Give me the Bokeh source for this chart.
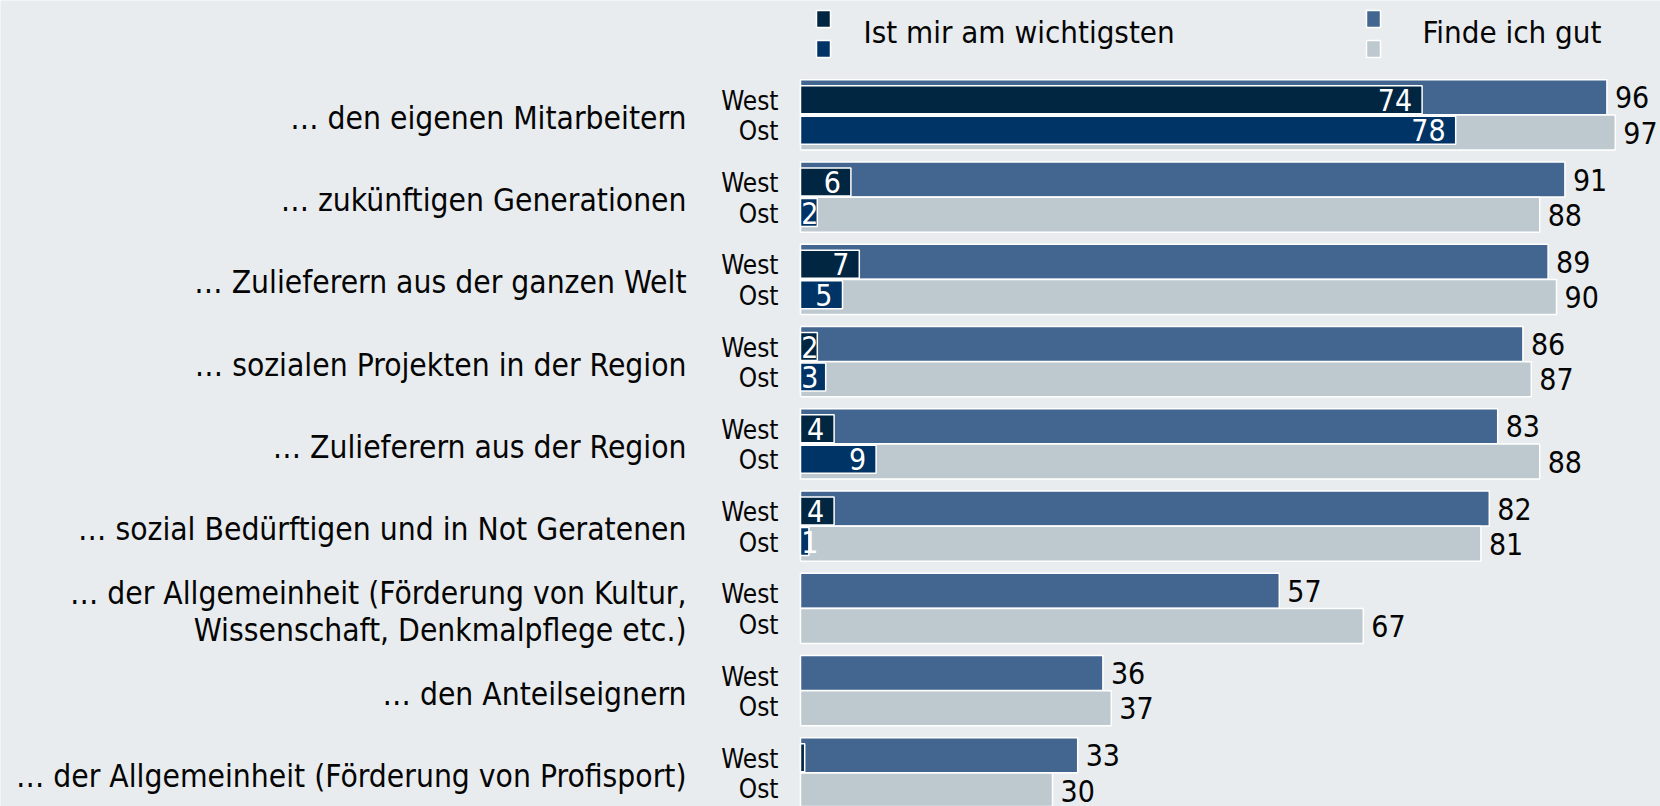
from bokeh.plotting import figure
from bokeh.models import Range1d, ColumnDataSource
from bokeh.core.properties import value
from bokeh.embed import file_html
from bokeh.resources import INLINE

# ---------------- data ----------------
categories = [
    "… den eigenen Mitarbeitern",
    "… zukünftigen Generationen",
    "… Zulieferern aus der ganzen Welt",
    "… sozialen Projekten in der Region",
    "… Zulieferern aus der Region",
    "… sozial Bedürftigen und in Not Geratenen",
    "… der Allgemeinheit (Förderung von Kultur,\nWissenschaft, Denkmalpflege etc.)",
    "… den Anteilseignern",
    "… der Allgemeinheit (Förderung von Profisport)",
]
finde_west = [96, 91, 89, 86, 83, 82, 57, 36, 33]
finde_ost = [97, 88, 90, 87, 88, 81, 67, 37, 30]
wichtig_west = [74, 6, 7, 2, 4, 4, 0, 0, 0.5]
wichtig_ost = [78, 2, 5, 3, 9, 1, 0, 0, 0]
region_labels = ["West", "Ost"]
legend_labels = ["Ist mir am wichtigsten", "Finde ich gut"]

# ---------------- style ----------------
W, H = 1660, 806
BG = "#E9ECEE"
C_WW = "#002642"   # wichtigsten West
C_WO = "#003366"   # wichtigsten Ost
C_FW = "#42668F"   # finde gut West
C_FO = "#BDC9CF"   # finde gut Ost
TXT = "#050505"
FONT = "DejaVu Sans Condensed"

PX_UNIT = 8.40     # pixels per percentage point
X0 = 800           # pixel position of zero
GROUP = 82.25      # pixels per category
FIRST = 114.3      # pixel centre of first category

def ux(px):  # pixel offset -> data units (x)
    return px / PX_UNIT

def uy(px):  # pixel offset -> data units (y)
    return px / GROUP

p = figure(width=W, height=H,
           x_range=Range1d(-X0 / PX_UNIT, (W - X0) / PX_UNIT),
           y_range=Range1d((H - FIRST) / GROUP, -FIRST / GROUP),
           output_backend="svg", toolbar_location=None,
           x_axis_location=None, y_axis_location=None,
           min_border=0, background_fill_color=BG, border_fill_color=BG,
           outline_line_color=None)
p.grid.visible = False

idx = list(range(len(categories)))

# finde ich gut bars
fw = ColumnDataSource(dict(y=[i - uy(17.5) for i in idx], v=finde_west,
                           lab=[str(v) for v in finde_west]))
fo = ColumnDataSource(dict(y=[i + uy(17.8) for i in idx], v=finde_ost,
                           lab=[str(v) for v in finde_ost]))
for src, col in ((fw, C_FW), (fo, C_FO)):
    p.hbar(y="y", left=0, right="v", height=uy(35), source=src,
           fill_color=col, line_color="white", line_width=1.5)
    p.text(x="v", y="y", text="lab", source=src, x_offset=8,
           text_align="left", text_baseline="middle",
           text_font=value(FONT), text_font_size="30px", text_color=TXT)

# ist mir am wichtigsten bars
MIN_LAB = ux(28)
def wsrc(vals, off):
    keep = [i for i in idx if vals[i] > 0]
    return ColumnDataSource(dict(
        y=[i + uy(off) for i in keep],
        v=[vals[i] for i in keep],
        lx=[max(vals[i], MIN_LAB) for i in keep],
        lab=[str(int(round(vals[i]))) if vals[i] >= 1 else "" for i in keep]))

ww = wsrc(wichtig_west, -15.0)
wo = wsrc(wichtig_ost, 15.5)
for src, col in ((ww, C_WW), (wo, C_WO)):
    p.hbar(y="y", left=0, right="v", height=uy(28), source=src,
           fill_color=col, line_color="white", line_width=1.5)
    p.text(x="lx", y="y", text="lab", source=src, x_offset=-10,
           text_align="right", text_baseline="middle",
           text_font=value(FONT), text_font_size="30px", text_color="white")

# West / Ost labels
rl = ColumnDataSource(dict(
    x=[0] * (2 * len(idx)),
    y=[i - uy(14) for i in idx] + [i + uy(16.5) for i in idx],
    t=[region_labels[0]] * len(idx) + [region_labels[1]] * len(idx)))
p.text(x="x", y="y", text="t", source=rl, x_offset=-22,
       text_align="right", text_baseline="middle",
       text_font=value(FONT), text_font_size="26px", text_color=TXT)

# category labels
cl = ColumnDataSource(dict(x=[0] * len(idx), y=[i + uy(3) for i in idx],
                           t=categories))
p.text(x="x", y="y", text="t", source=cl, x_offset=-114,
       text_align="right", text_baseline="middle", text_line_height=1.02,
       text_font=value(FONT), text_font_size="31.5px", text_color=TXT)

# legend (two stacked squares per entry: West on top, Ost below)
leg_sq = ColumnDataSource(dict(
    x=[ux(823 - X0)] * 2 + [ux(1373 - X0)] * 2,
    y=[uy(18.5 - FIRST), uy(48.5 - FIRST)] * 2,
    c=[C_WW, C_WO, C_FW, C_FO]))
p.rect(x="x", y="y", width=14, height=17, width_units="screen",
       height_units="screen", source=leg_sq, fill_color="c",
       line_color="white", line_width=1.5)
leg_tx = ColumnDataSource(dict(
    x=[ux(863 - X0), ux(1422 - X0)], y=[uy(31 - FIRST)] * 2, t=legend_labels))
p.text(x="x", y="y", text="t", source=leg_tx, text_align="left",
       text_baseline="middle", text_font=value(FONT), text_font_size="31px",
       text_color=TXT)

open("out.html", "w").write(file_html(p, INLINE))
